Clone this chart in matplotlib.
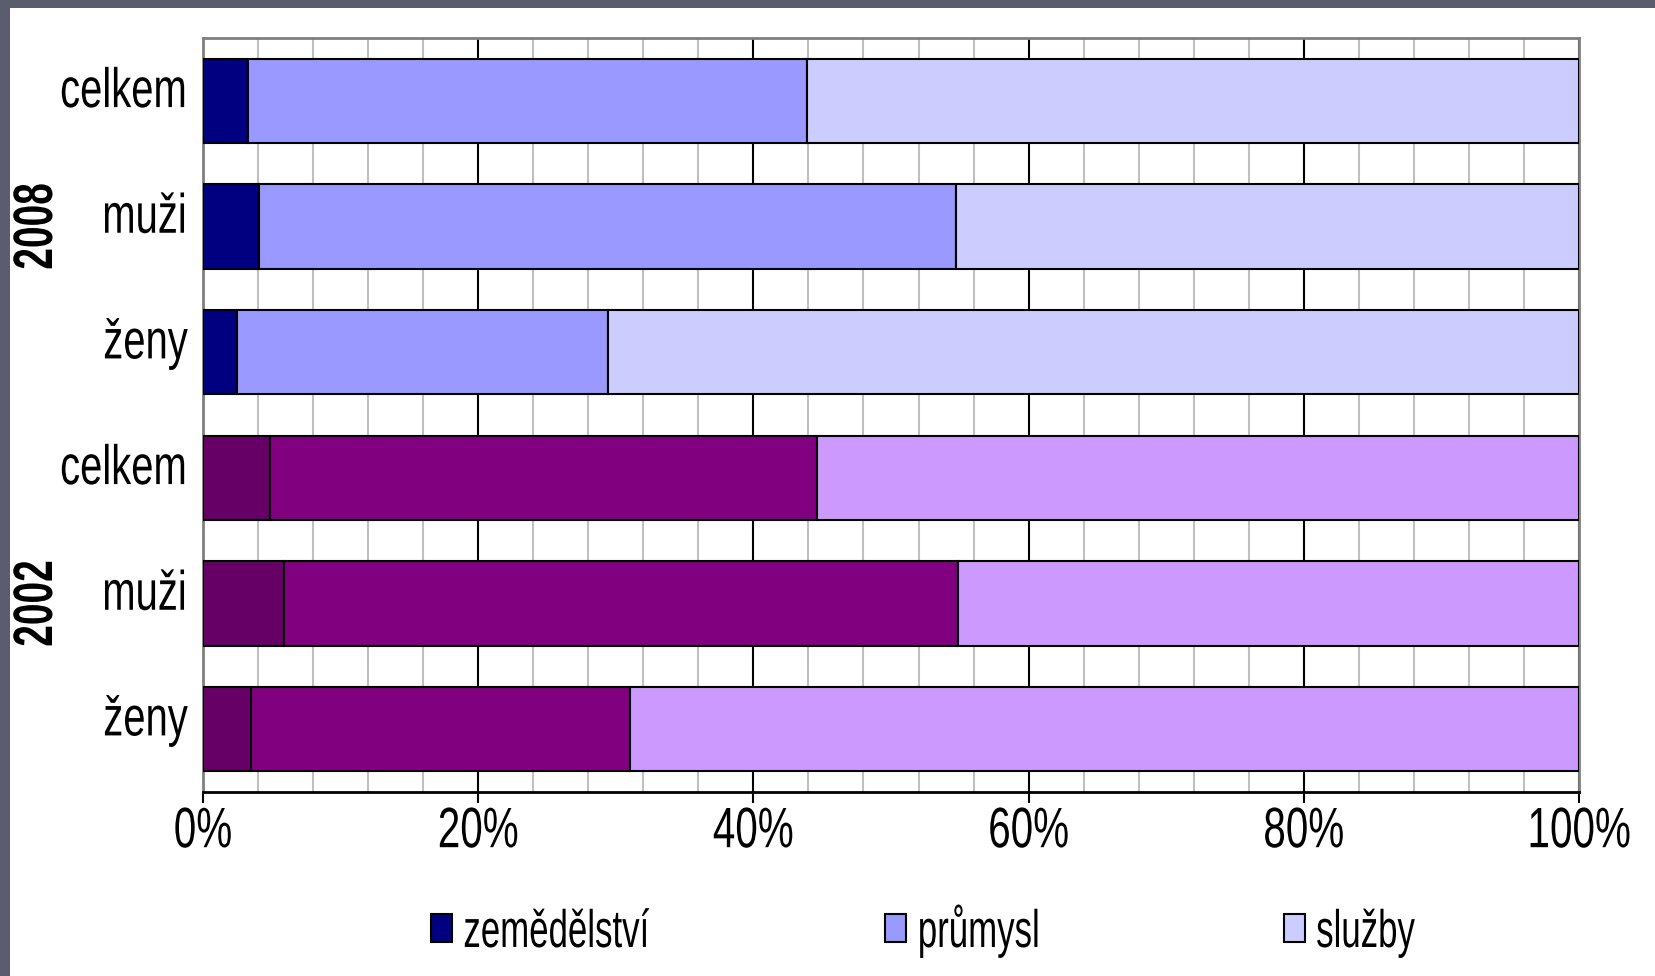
import matplotlib
matplotlib.use("Agg")
import matplotlib.pyplot as plt
from matplotlib.patches import Rectangle, Patch
from matplotlib.ticker import MultipleLocator, FixedLocator
from matplotlib.patheffects import AbstractPathEffect
from matplotlib.transforms import Affine2D

plt.rcParams["font.family"] = ["Liberation Sans", "DejaVu Sans"]

# --- data: employment shares by sector (%), rows: celkem, muži, ženy ---
years = ["2008", "2002"]
groups = ["celkem", "muži", "ženy"]
sectors = ["zemědělství", "průmysl", "služby"]

zemedelstvi_2008 = [3.3, 4.1, 2.5]
prumysl_2008 = [40.6, 50.6, 26.9]
sluzby_2008 = [56.1, 45.3, 70.6]

zemedelstvi_2002 = [4.9, 5.9, 3.5]
prumysl_2002 = [39.7, 49.0, 27.5]
sluzby_2002 = [55.4, 45.1, 69.0]

x_ticks = [0, 20, 40, 60, 80, 100]
x_tick_labels = ["0%", "20%", "40%", "60%", "80%", "100%"]

# --- styling ---
colors_2008 = ["#000080", "#9999FF", "#CCCCFF"]
colors_2002 = ["#660066", "#800080", "#CC99FF"]


class Narrow(AbstractPathEffect):
    """Squeeze glyphs horizontally (along the text direction) around an anchor."""

    def __init__(self, sx=0.72, anchor="center"):
        super().__init__()
        self.sx = sx
        self.anchor = anchor

    def draw_path(self, renderer, gc, tpath, affine, rgbFace=None):
        ext = tpath.get_extents()
        if self.anchor == "left":
            x0 = ext.x0
        elif self.anchor == "right":
            x0 = ext.x1
        else:
            x0 = 0.5 * (ext.x0 + ext.x1)
        squeeze = Affine2D().translate(-x0, 0).scale(self.sx, 1).translate(x0, 0)
        renderer.draw_path(gc, tpath, squeeze + affine, rgbFace)


W, H = 1656, 976
fig = plt.figure(figsize=(W / 100, H / 100), dpi=100)
fig.patch.set_facecolor("white")

ax = fig.add_axes([203 / W, 184 / H, 1376 / W, 754 / H])
ax.set_facecolor("white")

series_by_year = {
    "2008": ([zemedelstvi_2008, prumysl_2008, sluzby_2008], colors_2008),
    "2002": ([zemedelstvi_2002, prumysl_2002, sluzby_2002], colors_2002),
}

bar_h = 0.67
for yi, year in enumerate(years):
    series, cols = series_by_year[year]
    rows = [yi * len(groups) + g for g in range(len(groups))]
    left = [0.0] * len(groups)
    for vals, col in zip(series, cols):
        ax.barh(rows, vals, left=left, height=bar_h, color=col,
                edgecolor="black", linewidth=1.5, zorder=3)
        left = [a + b for a, b in zip(left, vals)]

n_rows = len(years) * len(groups)
ax.set_ylim(n_rows - 0.5, -0.5)
ax.set_xlim(0, 100)

# gridlines: grey every 4 %, black every 20 %
ax.xaxis.set_major_locator(FixedLocator(x_ticks))
ax.set_xticklabels(x_tick_labels)
ax.xaxis.set_minor_locator(MultipleLocator(4))
ax.xaxis.grid(True, which="minor", color="#c0c0c0", linewidth=1.5, zorder=0)
ax.xaxis.grid(True, which="major", color="black", linewidth=1.5, zorder=0)
ax.set_axisbelow(True)
ax.tick_params(axis="x", which="major", direction="out", length=8, width=1.5,
               color="black", labelsize=41, pad=1.5)
ax.tick_params(axis="x", which="minor", length=0)
ax.set_yticks([])
for lbl in ax.get_xticklabels():
    lbl.set_path_effects([Narrow(0.71, "center")])

for side in ("left", "top", "right"):
    ax.spines[side].set_color("#808080")
    ax.spines[side].set_linewidth(2)
ax.spines["bottom"].set_color("black")
ax.spines["bottom"].set_linewidth(2)

# category labels
for yi, year in enumerate(years):
    for g, name in enumerate(groups):
        row = yi * len(groups) + g
        ax.annotate(name, xy=(0, row), xycoords=("axes fraction", "data"),
                    xytext=(-11, -4.5), textcoords="offset points",
                    ha="right", va="baseline", fontsize=40,
                    annotation_clip=False,
                    path_effects=[Narrow(0.72, "right")])
    # year label, rotated, spanning its group
    center = yi * len(groups) + (len(groups) - 1) / 2
    ax.annotate(year, xy=(52, center), xycoords=("figure pixels", "data"),
                rotation=90, rotation_mode="anchor", ha="center", va="baseline",
                fontsize=40, fontweight="bold", annotation_clip=False,
                path_effects=[Narrow(0.7, "center")])

# legend entries (only the first colour set is listed)
legend_x = [431, 885, 1284]
for name, col, lx in zip(sectors, colors_2008, legend_x):
    handle = Patch(facecolor=col, edgecolor="black", linewidth=1.5)
    leg = fig.legend(handles=[handle], labels=[name], loc="lower left",
                     bbox_to_anchor=(lx / W, 18 / H), bbox_transform=fig.transFigure,
                     frameon=False, borderpad=0, borderaxespad=0,
                     handlelength=0.4, handleheight=0.44, handletextpad=0.2,
                     fontsize=38)
    for t in leg.get_texts():
        t.set_path_effects([Narrow(0.66, "left")])

# slide frame along the top and left edges
frame_col = "#5b5d6e"
fig.add_artist(Rectangle((0, 1 - 8 / H), 1, 8 / H, transform=fig.transFigure,
                         facecolor=frame_col, edgecolor="none", zorder=10))
fig.add_artist(Rectangle((0, 0), 10 / W, 1, transform=fig.transFigure,
                         facecolor=frame_col, edgecolor="none", zorder=10))

fig.savefig("out.png", dpi=100)
